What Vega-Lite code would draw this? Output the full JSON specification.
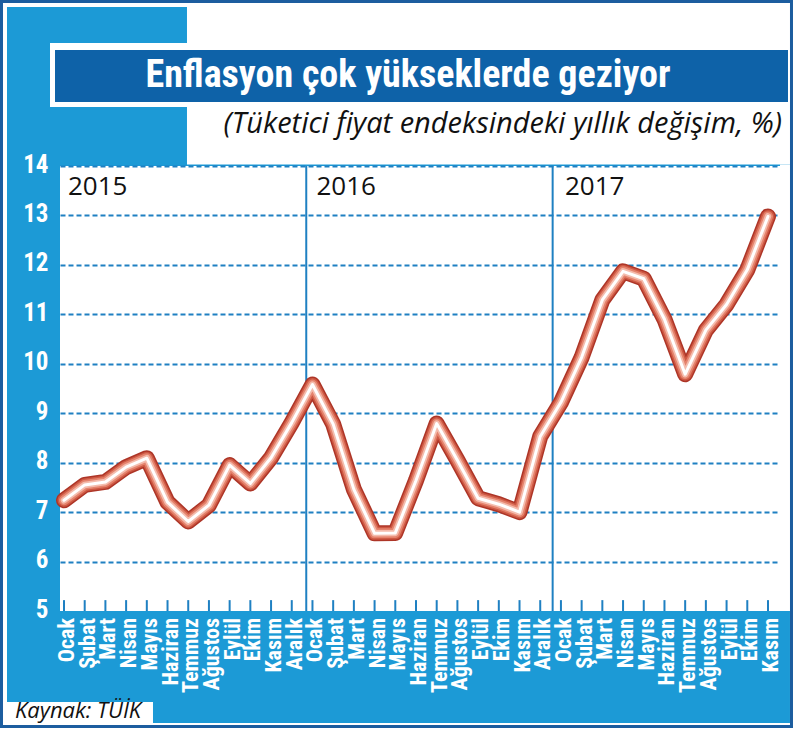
{
  "$schema": "https://vega.github.io/schema/vega-lite/v6.json",
  "width": 720,
  "height": 445,
  "autosize": {"type": "none"},
  "padding": {"left": 60, "top": 166, "right": 17, "bottom": 119},
  "background": "#1c9ad6",
  "config": {
    "view": {"fill": "white", "stroke": null},
    "axisX": {
      "labels": false,
      "ticks": false,
      "domain": false,
      "grid": false
    },
    "axisY": {
      "domain": false,
      "ticks": false,
      "grid": true,
      "gridColor": "#1f80c2",
      "gridDash": [5, 3],
      "gridWidth": 2,
      "labelColor": "white",
      "labelFont": "Roboto Condensed, Roboto",
      "labelFontWeight": "bold",
      "labelFontSize": 25,
      "labelPadding": 12,
      "labelOffset": -2,
      "labelFlush": false,
      "labelOverlap": false
    }
  },
  "datasets": {
    "enflasyon": [
      {"sira": 0, "yil": 2015, "ay": "Ocak", "deger": 7.24},
      {"sira": 1, "yil": 2015, "ay": "Şubat", "deger": 7.55},
      {"sira": 2, "yil": 2015, "ay": "Mart", "deger": 7.61},
      {"sira": 3, "yil": 2015, "ay": "Nisan", "deger": 7.91},
      {"sira": 4, "yil": 2015, "ay": "Mayıs", "deger": 8.09},
      {"sira": 5, "yil": 2015, "ay": "Haziran", "deger": 7.20},
      {"sira": 6, "yil": 2015, "ay": "Temmuz", "deger": 6.81},
      {"sira": 7, "yil": 2015, "ay": "Ağustos", "deger": 7.14},
      {"sira": 8, "yil": 2015, "ay": "Eylül", "deger": 7.95},
      {"sira": 9, "yil": 2015, "ay": "Ekim", "deger": 7.58},
      {"sira": 10, "yil": 2015, "ay": "Kasım", "deger": 8.10},
      {"sira": 11, "yil": 2015, "ay": "Aralık", "deger": 8.81},
      {"sira": 12, "yil": 2016, "ay": "Ocak", "deger": 9.58},
      {"sira": 13, "yil": 2016, "ay": "Şubat", "deger": 8.78},
      {"sira": 14, "yil": 2016, "ay": "Mart", "deger": 7.46},
      {"sira": 15, "yil": 2016, "ay": "Nisan", "deger": 6.57},
      {"sira": 16, "yil": 2016, "ay": "Mayıs", "deger": 6.58},
      {"sira": 17, "yil": 2016, "ay": "Haziran", "deger": 7.64},
      {"sira": 18, "yil": 2016, "ay": "Temmuz", "deger": 8.79},
      {"sira": 19, "yil": 2016, "ay": "Ağustos", "deger": 8.05},
      {"sira": 20, "yil": 2016, "ay": "Eylül", "deger": 7.28},
      {"sira": 21, "yil": 2016, "ay": "Ekim", "deger": 7.16},
      {"sira": 22, "yil": 2016, "ay": "Kasım", "deger": 7.00},
      {"sira": 23, "yil": 2016, "ay": "Aralık", "deger": 8.53},
      {"sira": 24, "yil": 2017, "ay": "Ocak", "deger": 9.22},
      {"sira": 25, "yil": 2017, "ay": "Şubat", "deger": 10.13},
      {"sira": 26, "yil": 2017, "ay": "Mart", "deger": 11.29},
      {"sira": 27, "yil": 2017, "ay": "Nisan", "deger": 11.87},
      {"sira": 28, "yil": 2017, "ay": "Mayıs", "deger": 11.72},
      {"sira": 29, "yil": 2017, "ay": "Haziran", "deger": 10.90},
      {"sira": 30, "yil": 2017, "ay": "Temmuz", "deger": 9.79},
      {"sira": 31, "yil": 2017, "ay": "Ağustos", "deger": 10.68},
      {"sira": 32, "yil": 2017, "ay": "Eylül", "deger": 11.20},
      {"sira": 33, "yil": 2017, "ay": "Ekim", "deger": 11.90},
      {"sira": 34, "yil": 2017, "ay": "Kasım", "deger": 12.98}
    ],
    "yillar": [
      {"yil": "2015", "ilk": 0},
      {"yil": "2016", "ilk": 12},
      {"yil": "2017", "ilk": 24}
    ]
  },
  "layer": [
    {
      "description": "month ticks rising from the baseline; this layer carries both axes",
      "data": {"name": "enflasyon"},
      "mark": {"type": "rule", "color": "#1f80c2", "strokeWidth": 2},
      "encoding": {
        "x": {
          "field": "sira",
          "type": "quantitative",
          "scale": {"domain": [-0.193, 34.58], "nice": false, "zero": false},
          "axis": {"title": null, "labels": false, "grid": false, "ticks": false, "domain": false}
        },
        "y": {
          "datum": 5,
          "type": "quantitative",
          "scale": {"domain": [5, 14], "nice": false, "zero": false},
          "axis": {
            "title": null,
            "values": [5, 6, 7, 8, 9, 10, 11, 12, 13, 14],
            "gridOpacity": {"condition": {"test": "datum.value == 5", "value": 0}, "value": 1},
            "labelFontSize": 25
          }
        },
        "y2": {"datum": 5.22}
      }
    },
    {
      "description": "month names under the plot, read bottom to top",
      "data": {"name": "enflasyon"},
      "mark": {"type": "text", "angle": 270, "align": "right", "baseline": "middle", "dx": -7, "dy": 3, "font": "Roboto Condensed, Roboto", "fontWeight": "bold", "fontSize": 22, "color": "white", "clip": false},
      "encoding": {
        "x": {"field": "sira", "type": "quantitative"},
        "y": {"datum": 5, "type": "quantitative"},
        "text": {"field": "ay"}
      }
    },
    {
      "description": "white header area to the right of the blue corner block",
      "data": {"values": [{}]},
      "mark": {"type": "rect", "color": "white", "clip": false},
      "encoding": {
        "x": {"datum": 5.94, "type": "quantitative"},
        "x2": {"datum": 35.4},
        "y": {"datum": 14.03, "type": "quantitative"},
        "y2": {"datum": 17.36}
      }
    },
    {
      "description": "white right margin beside the plot",
      "data": {"values": [{}]},
      "mark": {"type": "rect", "color": "white", "clip": false},
      "encoding": {
        "x": {"datum": 34.58, "type": "quantitative"},
        "x2": {"datum": 35.4},
        "y": {"datum": 5, "type": "quantitative"},
        "y2": {"datum": 14.03}
      }
    },
    {
      "description": "white outline of the headline band",
      "data": {"values": [{}]},
      "mark": {"type": "rect", "color": "white", "clip": false},
      "encoding": {
        "x": {"datum": -0.676, "type": "quantitative"},
        "x2": {"datum": 34.966},
        "y": {"datum": 15.193, "type": "quantitative"},
        "y2": {"datum": 16.488}
      }
    },
    {
      "description": "dark blue headline band",
      "data": {"values": [{}]},
      "mark": {"type": "rect", "color": "#0e62a8", "clip": false},
      "encoding": {
        "x": {"datum": -0.434, "type": "quantitative"},
        "x2": {"datum": 34.966},
        "y": {"datum": 15.294, "type": "quantitative"},
        "y2": {"datum": 16.346}
      }
    },
    {
      "description": "white box for the source note",
      "data": {"values": [{}]},
      "mark": {"type": "rect", "color": "white", "clip": false},
      "encoding": {
        "x": {"datum": -2.753, "type": "quantitative"},
        "x2": {"datum": 4.298},
        "y": {"datum": 2.735, "type": "quantitative"},
        "y2": {"datum": 3.16}
      }
    },
    {
      "description": "white margin round the whole graphic",
      "data": {"values": [{}]},
      "mark": {"type": "rect", "fill": null, "stroke": "white", "strokeWidth": 14, "clip": false},
      "encoding": {
        "x": {"datum": -3.091, "type": "quantitative"},
        "x2": {"datum": 35.4},
        "y": {"datum": 2.593, "type": "quantitative"},
        "y2": {"datum": 17.357}
      }
    },
    {
      "description": "dark blue outer frame",
      "data": {"values": [{}]},
      "mark": {"type": "rect", "fill": null, "stroke": "#1c5d9f", "strokeWidth": 3, "clip": false},
      "encoding": {
        "x": {"datum": -3.018, "type": "quantitative"},
        "x2": {"datum": 35.135},
        "y": {"datum": 2.664, "type": "quantitative"},
        "y2": {"datum": 17.327}
      }
    },
    {
      "description": "year separator 2015/2016",
      "data": {"values": [{}]},
      "mark": {"type": "rule", "color": "#1f80c2", "strokeWidth": 2},
      "encoding": {
        "x": {"datum": 11.7, "type": "quantitative"},
        "y": {"datum": 5, "type": "quantitative"},
        "y2": {"datum": 14}
      }
    },
    {
      "description": "year separator 2016/2017",
      "data": {"values": [{}]},
      "mark": {"type": "rule", "color": "#1f80c2", "strokeWidth": 2},
      "encoding": {
        "x": {"datum": 23.6, "type": "quantitative"},
        "y": {"datum": 5, "type": "quantitative"},
        "y2": {"datum": 14}
      }
    },
    {
      "description": "inflation line, outer rim of the tube",
      "data": {"name": "enflasyon"},
      "mark": {"type": "line", "color": "#ad3527", "strokeWidth": 16, "strokeCap": "round", "strokeJoin": "round"},
      "encoding": {
        "x": {"field": "sira", "type": "quantitative"},
        "y": {"field": "deger", "type": "quantitative"}
      }
    },
    {
      "data": {"name": "enflasyon"},
      "mark": {"type": "line", "color": "#cd5843", "strokeWidth": 13, "strokeCap": "round", "strokeJoin": "round"},
      "encoding": {
        "x": {"field": "sira", "type": "quantitative"},
        "y": {"field": "deger", "type": "quantitative"}
      }
    },
    {
      "data": {"name": "enflasyon"},
      "mark": {"type": "line", "color": "#e5836d", "strokeWidth": 10, "strokeCap": "round", "strokeJoin": "round"},
      "encoding": {
        "x": {"field": "sira", "type": "quantitative"},
        "y": {"field": "deger", "type": "quantitative"}
      }
    },
    {
      "data": {"name": "enflasyon"},
      "mark": {"type": "line", "color": "#f4bcad", "strokeWidth": 6.5, "strokeCap": "round", "strokeJoin": "round"},
      "encoding": {
        "x": {"field": "sira", "type": "quantitative"},
        "y": {"field": "deger", "type": "quantitative"}
      }
    },
    {
      "data": {"name": "enflasyon"},
      "mark": {"type": "line", "color": "white", "strokeWidth": 3, "strokeCap": "round", "strokeJoin": "round"},
      "encoding": {
        "x": {"field": "sira", "type": "quantitative"},
        "y": {"field": "deger", "type": "quantitative"}
      }
    },
    {
      "description": "year captions at the start of each year",
      "data": {"name": "yillar"},
      "mark": {"type": "text", "align": "left", "baseline": "alphabetic", "dx": 4, "font": "Open Sans", "fontSize": 26, "color": "#111111"},
      "encoding": {
        "x": {"field": "ilk", "type": "quantitative"},
        "y": {"datum": 13.41, "type": "quantitative"},
        "text": {"field": "yil"}
      }
    },
    {
      "description": "headline",
      "data": {"values": [{"metin": "Enflasyon çok yükseklerde geziyor"}]},
      "mark": {"type": "text", "align": "center", "baseline": "alphabetic", "font": "Roboto Condensed, Roboto", "fontWeight": "bold", "fontSize": 38, "color": "white", "clip": false},
      "encoding": {
        "x": {"datum": 16.614, "type": "quantitative"},
        "y": {"datum": 15.598, "type": "quantitative"},
        "text": {"field": "metin"}
      }
    },
    {
      "description": "subtitle",
      "data": {"values": [{"metin": "(Tüketici fiyat endeksindeki yıllık değişim, %)"}]},
      "mark": {"type": "text", "align": "right", "baseline": "alphabetic", "font": "Open Sans", "fontStyle": "italic", "fontSize": 29, "color": "#111111", "clip": false},
      "encoding": {
        "x": {"datum": 34.676, "type": "quantitative"},
        "y": {"datum": 14.667, "type": "quantitative"},
        "text": {"field": "metin"}
      }
    },
    {
      "description": "source note",
      "data": {"values": [{"metin": "Kaynak: TÜİK"}]},
      "mark": {"type": "text", "align": "left", "baseline": "alphabetic", "font": "Open Sans", "fontStyle": "italic", "fontSize": 22, "color": "#111111", "clip": false},
      "encoding": {
        "x": {"datum": -2.366, "type": "quantitative"},
        "y": {"datum": 2.836, "type": "quantitative"},
        "text": {"field": "metin"}
      }
    }
  ]
}
